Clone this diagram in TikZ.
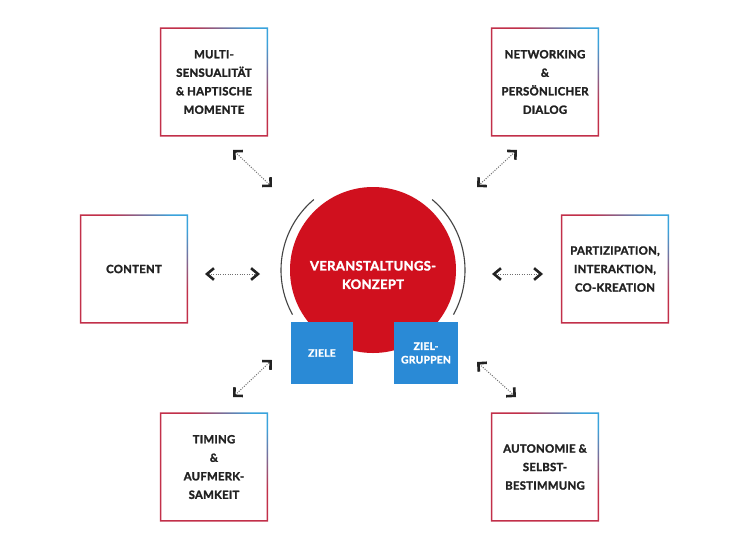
\documentclass[tikz,border=0pt]{standalone}
\usepackage{fontspec}
\setmainfont{Lato}
\newfontfamily\lbl{Lato}[LetterSpace=2.5, BoldFeatures={FakeBold=2}]
\usetikzlibrary{arrows.meta}
\definecolor{cred}{HTML}{D0101E}
\definecolor{cblue}{HTML}{2A8AD6}
\definecolor{fred}{HTML}{C2304A}
\definecolor{fblue}{HTML}{3AA3DC}
\definecolor{ink}{HTML}{222222}
\pgfdeclareverticalshading{frameshade}{100bp}{color(0bp)=(fred); color(60bp)=(fred); color(80bp)=(fblue); color(100bp)=(fblue)}
\tikzset{
  card/.style={minimum width=108pt, minimum height=109pt, inner sep=0pt, align=center,
    text=ink, font=\lbl\bfseries\fontsize{11.3}{18.5}\selectfont},
  bluebox/.style={fill=cblue, minimum height=62pt, inner sep=0pt, align=center,
    text=white, font=\lbl\bfseries\fontsize{10.3}{13.5}\selectfont},
  conn/.style={draw=ink!65, line width=1pt, dash pattern=on 1pt off 1.4pt},
  diagtip/.style={{Straight Barb[angle=90:8.5pt, line width=2.6pt, color=ink]}-{Straight Barb[angle=90:8.5pt, line width=2.6pt, color=ink]}},
  horztip/.style={{Straight Barb[angle=80:9pt, line width=2.6pt, color=ink]}-{Straight Barb[angle=80:9pt, line width=2.6pt, color=ink]}},
}
\begin{document}
\begin{tikzpicture}[x=1pt, y=-1pt]
\useasboundingbox[fill=white] (0,0) rectangle (752,544);

% cards
\node[card] (multi) at (214,82) {MULTI-\\SENSUALITÄT\\\& HAPTISCHE\\MOMENTE};
\node[card] (netw) at (545,82) {NETWORKING\\\&\\PERSÖNLICHER\\DIALOG};
\node[card] (cont) at (134,269) {CONTENT};
\node[card] (part) at (615,269) {PARTIZIPATION,\\INTERAKTION,\\CO-KREATION};
\node[card] (timing) at (214,467) {TIMING\\\&\\AUFMERK-\\SAMKEIT};
\node[card] (auto) at (545,467) {AUTONOMIE \&\\SELBST-\\BESTIMMUNG};

\foreach \n in {multi,netw,cont,part,timing,auto}{
  \shade[shading=frameshade, shading angle=-45, even odd rule]
    (\n.south west) rectangle (\n.north east)
    ([shift={(1.6pt,1.6pt)}]\n.south west) rectangle ([shift={(-1.6pt,-1.6pt)}]\n.north east);
}

% centre
\node[circle, fill=cred, minimum size=166pt, inner sep=0pt] (circ) at (373,270) {};
\draw[ink!85, line width=1.1pt] (circ.center) ++(130:92pt) arc[start angle=130, end angle=209, radius=92pt];
\draw[ink!85, line width=1.1pt] (circ.center) ++(50:92pt) arc[start angle=50, end angle=-29, radius=92pt];
\node[text=white, align=center, font=\lbl\bfseries\fontsize{13}{18.5}\selectfont] (konz) at (373,275) {VERANSTALTUNGS-\\KONZEPT};
\node[bluebox, minimum width=62pt] (ziele) at (322,353) {ZIELE};
\node[bluebox, minimum width=64pt] (zielg) at (426,353) {ZIEL-\\GRUPPEN};

% connectors
\coordinate (nw1) at (233,150); \coordinate (nw2) at (272,187);
\coordinate (ne1) at (517,150); \coordinate (ne2) at (477,187);
\coordinate (w1) at (205,274);  \coordinate (w2) at (260,274);
\coordinate (e1) at (492,274);  \coordinate (e2) at (543,274);
\coordinate (sw1) at (233,397); \coordinate (sw2) at (272,360);
\coordinate (se1) at (477,362); \coordinate (se2) at (516,397);
\draw[conn, diagtip] (nw1) -- (nw2);
\draw[conn, diagtip] (ne1) -- (ne2);
\draw[conn, horztip] (w1) -- (w2);
\draw[conn, horztip] (e1) -- (e2);
\draw[conn, diagtip] (sw1) -- (sw2);
\draw[conn, diagtip] (se1) -- (se2);
\end{tikzpicture}
\end{document}
